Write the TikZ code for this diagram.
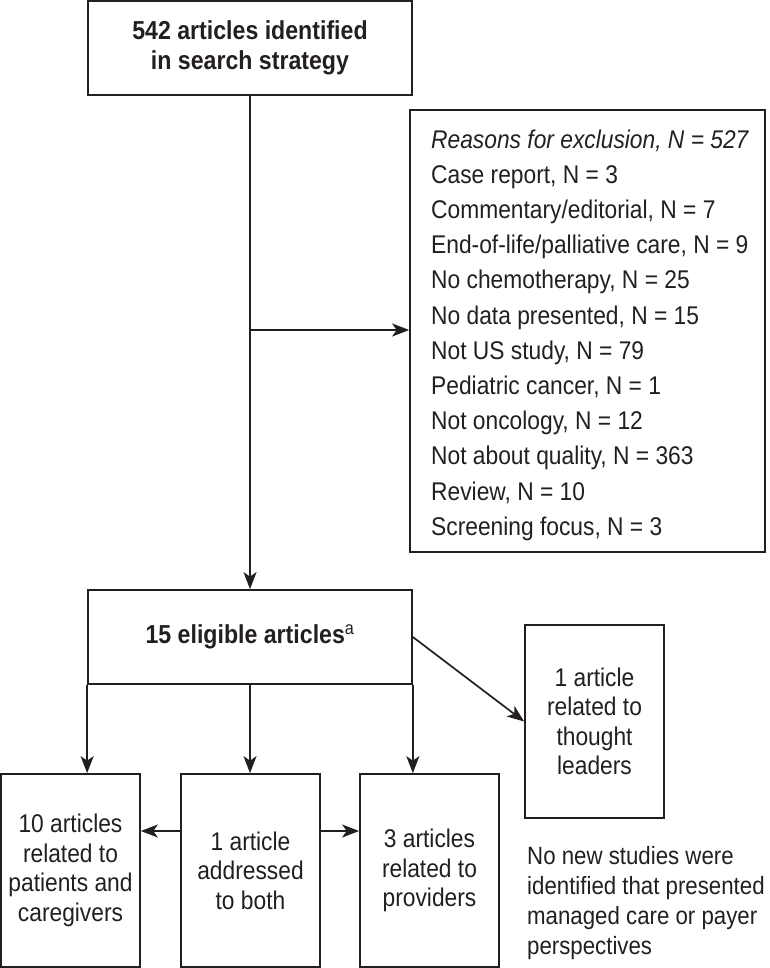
\documentclass[tikz,border=0pt]{standalone}
\usepackage{fontspec}
\setmainfont{Liberation Sans}[FakeStretch=0.89]
\usetikzlibrary{arrows.meta}
\definecolor{ink}{RGB}{35,31,32}
\begin{document}
\begin{tikzpicture}[x=1pt,y=-1pt,
  font=\fontsize{25.6}{29.5}\selectfont,
  box/.style={draw=ink, line width=1.7pt, inner sep=0pt, align=center, text=ink},
  boldtxt/.style={font=\fontsize{26}{29.5}\selectfont\bfseries},
  smallbox/.style={box, minimum width=139pt, minimum height=193pt},
  arr/.style={draw=ink, line width=1.7pt, -{Stealth[length=17pt,width=13pt,inset=4.5pt]}}]
\useasboundingbox (0,0) rectangle (770,968);

\node[box, boldtxt, minimum width=324pt, minimum height=94pt] (top) at (250,48)
  {542 articles identified\\in search strategy};

\node[box, minimum width=355pt, minimum height=442pt] (reasons) at (587.5,331) {};
\node[anchor=west, align=left, inner sep=0pt, text=ink,
  font=\fontsize{25.6}{35.2}\selectfont] (reasonstxt) at (431,335)
  {\textit{Reasons for exclusion, N = 527}\\
   Case report, N = 3\\
   Commentary/editorial, N = 7\\
   End-of-life/palliative care, N = 9\\
   No chemotherapy, N = 25\\
   No data presented, N = 15\\
   Not US study, N = 79\\
   Pediatric cancer, N = 1\\
   Not oncology, N = 12\\
   Not about quality, N = 363\\
   Review, N = 10\\
   Screening focus, N = 3};

\node[box, boldtxt, minimum width=324pt, minimum height=94pt] (elig) at (250,637)
  {15 eligible articles\textsuperscript{\mdseries a}};

\node[smallbox] (thought) at (594.5,721.5) {1 article\\related to\\thought\\leaders};
\node[smallbox] (pat) at (70.5,870.5) {10 articles\\related to\\patients and\\caregivers};
\node[smallbox] (both) at (250.5,870.5) {1 article\\addressed\\to both};
\node[smallbox] (prov) at (429.5,870.5) {3 articles\\related to\\providers};

\node[align=left, anchor=west, inner sep=0pt, text=ink,
  font=\fontsize{25}{30}\selectfont] (note) at (527,903.5)
  {No new studies were\\identified that presented\\managed care or payer\\perspectives};

\coordinate (j1) at (250,330);
\coordinate (hy) at (0,831);
\draw[arr] (top.south) -- (elig.north);
\draw[arr] (j1) -- (reasons.west |- j1);
\draw[arr] (elig.south west) -- (elig.south west |- pat.north);
\draw[arr] (elig.south) -- (elig.south |- both.north);
\draw[arr] (elig.south east) -- (elig.south east |- prov.north);
\draw[arr] (elig.east) -- (thought.west);
\draw[arr] (both.west |- hy) -- (pat.east |- hy);
\draw[arr] (both.east |- hy) -- (prov.west |- hy);
\end{tikzpicture}
\end{document}
